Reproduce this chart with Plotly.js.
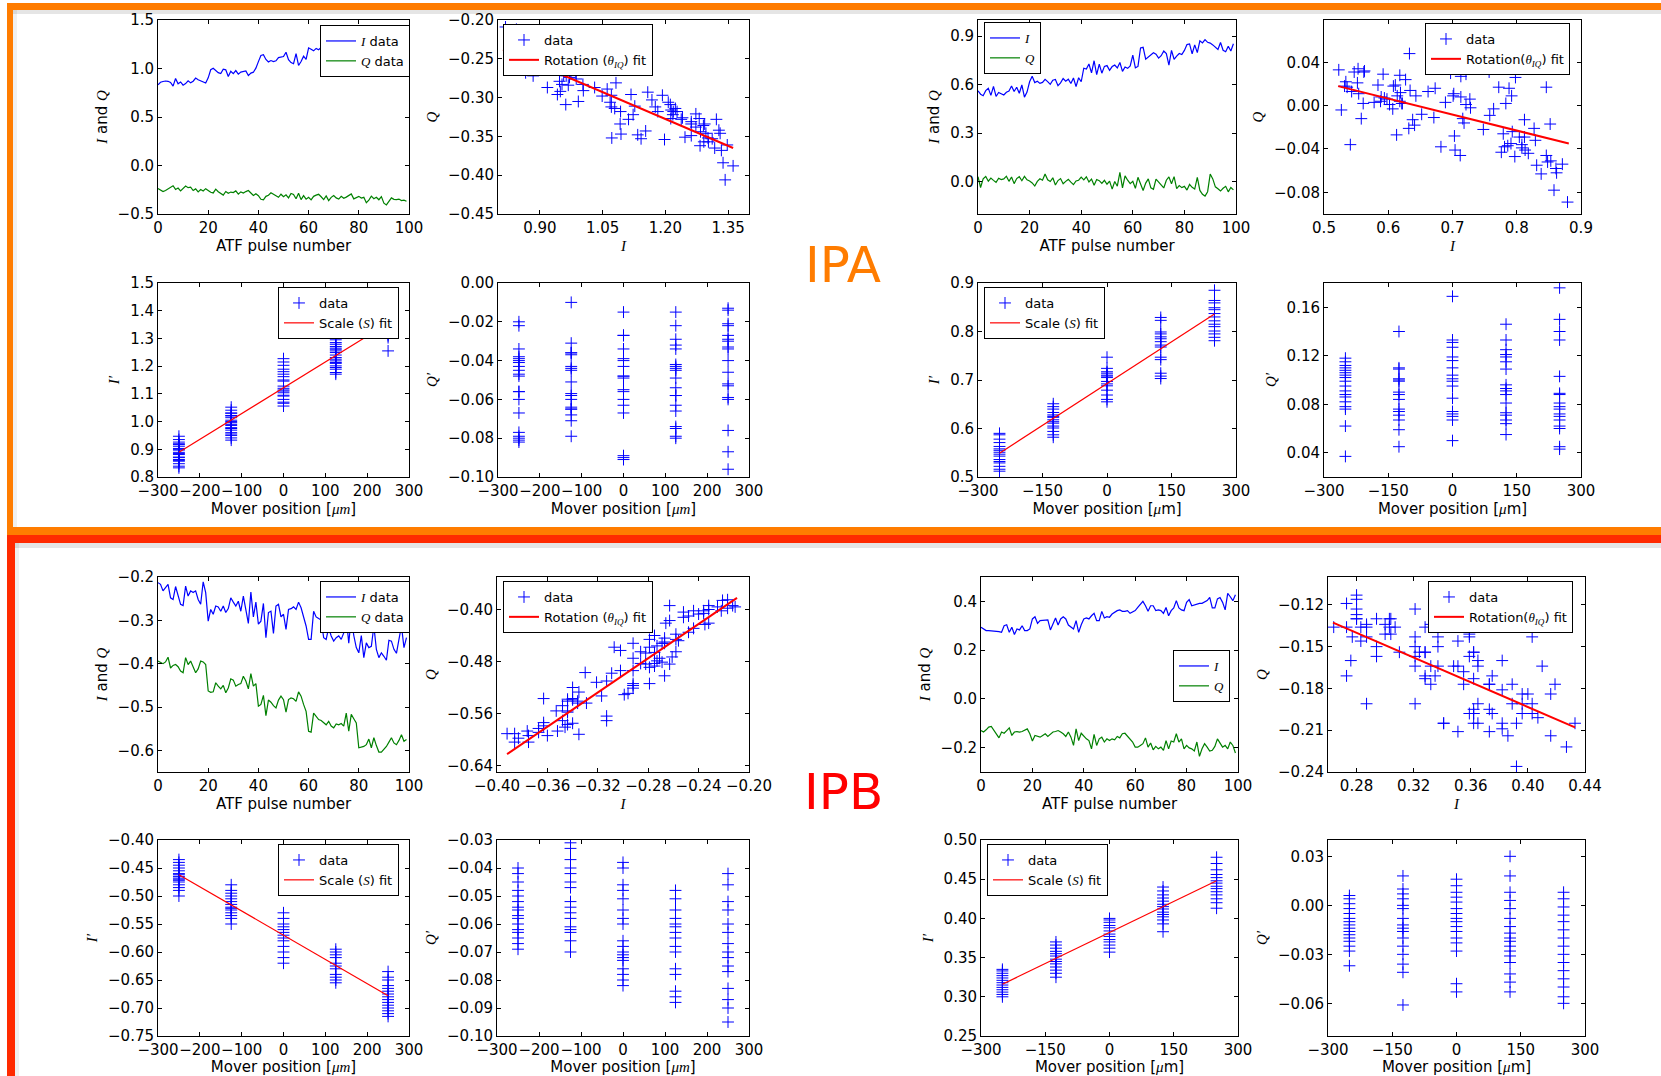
<!DOCTYPE html>
<html><head><meta charset="utf-8">
<script src="https://cdn.plot.ly/plotly-3.0.1.min.js"></script>
<style>html,body{margin:0;padding:0;background:#fff;}#chart{width:1661px;height:1076px;}</style>
</head><body><div id="chart"></div>
<script>
// ---------------- DATA ----------------
const pulseNumber = [0,1,2,3,4,5,6,7,8,9,10,11,12,13,14,15,16,17,18,19,20,21,22,23,24,25,26,27,28,29,30,31,32,33,34,35,36,37,38,39,40,41,42,43,44,45,46,47,48,49,50,51,52,53,54,55,56,57,58,59,60,61,62,63,64,65,66,67,68,69,70,71,72,73,74,75,76,77,78,79,80,81,82,83,84,85,86,87,88,89,90,91,92,93,94,95,96,97,98,99];

// IPA, left pair (I and Q per pulse)
const ipaL_I = [0.832,0.858,0.866,0.871,0.868,0.856,0.818,0.897,0.843,0.861,
 0.828,0.844,0.873,0.852,0.869,0.902,0.884,0.874,0.862,0.851,
 0.904,0.987,1.003,0.978,0.957,0.949,0.992,0.986,0.918,0.971,
 0.947,0.979,0.942,0.963,0.968,0.974,0.927,0.953,0.962,1.004,
 1.071,1.134,1.142,1.093,1.068,1.082,1.071,1.079,1.112,1.118,
 1.123,1.168,1.092,1.061,1.049,1.153,1.031,1.072,1.127,1.094,
 1.213,1.198,1.182,1.207,1.193,1.218,1.247,1.224,1.283,1.238,
 1.212,1.262,1.297,1.228,1.273,1.241,1.176,1.158,1.284,1.262,
 1.219,1.291,1.322,1.338,1.303,1.214,1.328,1.281,1.312,1.273,
 1.362,1.343,1.318,1.294,1.262,1.302,1.331,1.348,1.292,1.334];
const ipaL_Q = [-0.238,-0.252,-0.268,-0.257,-0.243,-0.228,-0.209,-0.247,-0.232,-0.262,
 -0.236,-0.212,-0.229,-0.224,-0.258,-0.241,-0.272,-0.248,-0.263,-0.239,
 -0.257,-0.276,-0.283,-0.244,-0.271,-0.292,-0.305,-0.268,-0.287,-0.274,
 -0.279,-0.262,-0.296,-0.272,-0.284,-0.269,-0.258,-0.283,-0.309,-0.291,
 -0.312,-0.348,-0.353,-0.318,-0.306,-0.281,-0.297,-0.314,-0.328,-0.296,
 -0.322,-0.303,-0.334,-0.289,-0.298,-0.343,-0.287,-0.352,-0.311,-0.347,
 -0.327,-0.354,-0.318,-0.306,-0.297,-0.322,-0.351,-0.314,-0.362,-0.328,
 -0.309,-0.334,-0.346,-0.318,-0.338,-0.326,-0.312,-0.293,-0.344,-0.331,
 -0.318,-0.336,-0.328,-0.384,-0.357,-0.316,-0.342,-0.327,-0.353,-0.321,
 -0.388,-0.406,-0.365,-0.334,-0.349,-0.352,-0.346,-0.361,-0.357,-0.368];
const ipaL_fitI = [0.812, 1.362];
const ipaL_fitQ = [-0.238, -0.365];

// IPA, right pair
const ipaR_I = [0.562,0.541,0.532,0.563,0.578,0.534,0.589,0.527,0.552,0.543,
 0.536,0.553,0.561,0.592,0.558,0.584,0.547,0.598,0.523,0.554,
 0.618,0.652,0.613,0.621,0.608,0.614,0.633,0.619,0.602,0.627,
 0.632,0.594,0.611,0.638,0.622,0.634,0.607,0.641,0.588,0.643,
 0.618,0.702,0.697,0.728,0.673,0.748,0.662,0.727,0.671,0.713,
 0.718,0.689,0.712,0.721,0.703,0.737,0.682,0.709,0.701,0.716,
 0.783,0.704,0.713,0.827,0.831,0.758,0.772,0.781,0.797,0.788,
 0.764,0.779,0.808,0.792,0.721,0.812,0.757,0.776,0.793,0.786,
 0.812,0.848,0.852,0.791,0.846,0.798,0.871,0.858,0.879,0.862,
 0.857,0.846,0.829,0.818,0.861,0.813,0.804,0.838,0.808,0.853];
const ipaR_Q = [0.031,-0.036,0.018,0.032,0.003,0.022,0.008,-0.004,0.021,0.013,
 0.017,0.034,0.002,0.029,-0.012,0.019,0.031,0.006,0.033,0.011,
 0.004,-0.008,-0.027,0.002,0.018,0.009,0.048,0.012,0.001,0.024,
 -0.021,0.007,0.019,-0.013,0.002,0.014,-0.003,-0.018,0.004,0.009,
 0.028,0.011,0.030,-0.002,0.016,-0.022,0.013,0.006,-0.011,0.008,
 -0.016,0.003,-0.046,0.001,-0.028,0.058,-0.038,0.036,0.009,-0.012,
 0.002,-0.041,0.027,-0.021,-0.055,-0.009,0.017,-0.038,-0.047,0.016,
 -0.003,-0.026,-0.039,0.009,0.029,-0.013,0.031,-0.043,-0.024,-0.037,
 -0.029,-0.052,-0.017,-0.035,-0.046,0.026,-0.054,-0.078,-0.089,-0.062,
 0.047,0.017,-0.032,-0.044,-0.058,-0.041,-0.029,-0.063,-0.036,-0.051];
const ipaR_fitI = [0.522, 0.881];
const ipaR_fitQ = [0.018, -0.035];

// IPB, left pair
const ipbL_I = [-0.213,-0.217,-0.232,-0.225,-0.217,-0.248,-0.252,-0.222,-0.240,-0.263,
 -0.266,-0.221,-0.244,-0.232,-0.236,-0.232,-0.252,-0.263,-0.211,-0.236,
 -0.302,-0.275,-0.286,-0.267,-0.269,-0.279,-0.267,-0.282,-0.273,-0.248,
 -0.258,-0.267,-0.256,-0.279,-0.244,-0.275,-0.307,-0.235,-0.292,-0.258,
 -0.309,-0.302,-0.261,-0.340,-0.282,-0.279,-0.330,-0.267,-0.263,-0.292,
 -0.286,-0.321,-0.275,-0.273,-0.269,-0.275,-0.258,-0.271,-0.292,-0.313,
 -0.344,-0.344,-0.279,-0.292,-0.296,-0.299,-0.340,-0.344,-0.317,-0.336,
 -0.348,-0.340,-0.336,-0.344,-0.329,-0.292,-0.353,-0.292,-0.335,-0.363,
 -0.375,-0.335,-0.386,-0.352,-0.363,-0.360,-0.313,-0.367,-0.386,-0.375,
 -0.383,-0.392,-0.346,-0.348,-0.367,-0.376,-0.344,-0.313,-0.363,-0.340];
const ipbL_Q = [-0.394,-0.398,-0.400,-0.396,-0.385,-0.410,-0.404,-0.402,-0.407,-0.417,
 -0.421,-0.386,-0.402,-0.394,-0.406,-0.421,-0.412,-0.394,-0.396,-0.402,
 -0.463,-0.466,-0.465,-0.444,-0.452,-0.458,-0.450,-0.467,-0.456,-0.435,
 -0.438,-0.452,-0.448,-0.446,-0.429,-0.440,-0.458,-0.423,-0.452,-0.446,
 -0.498,-0.494,-0.473,-0.520,-0.484,-0.489,-0.497,-0.502,-0.484,-0.475,
 -0.483,-0.512,-0.483,-0.479,-0.481,-0.487,-0.465,-0.475,-0.494,-0.510,
 -0.556,-0.558,-0.514,-0.521,-0.529,-0.531,-0.537,-0.541,-0.533,-0.544,
 -0.548,-0.539,-0.541,-0.538,-0.544,-0.514,-0.556,-0.517,-0.527,-0.537,
 -0.594,-0.592,-0.591,-0.587,-0.574,-0.594,-0.571,-0.589,-0.604,-0.604,
 -0.598,-0.591,-0.581,-0.571,-0.583,-0.587,-0.577,-0.564,-0.579,-0.575];
const ipbL_fitI = [-0.392, -0.2095];
const ipbL_fitQ = [-0.6225, -0.382];

// IPB, right pair
const ipbR_I = [0.294,0.287,0.280,0.280,0.280,0.280,0.277,0.276,0.273,0.300,
 0.304,0.273,0.294,0.264,0.287,0.283,0.300,0.280,0.280,0.287,
 0.328,0.337,0.310,0.321,0.321,0.321,0.324,0.283,0.307,0.332,
 0.303,0.328,0.337,0.328,0.303,0.294,0.287,0.321,0.273,0.304,
 0.328,0.332,0.328,0.341,0.351,0.321,0.321,0.359,0.332,0.337,
 0.335,0.348,0.355,0.362,0.365,0.359,0.359,0.362,0.351,0.355,
 0.362,0.375,0.389,0.400,0.382,0.359,0.382,0.382,0.362,0.365,
 0.362,0.351,0.375,0.341,0.362,0.373,0.403,0.373,0.365,0.362,
 0.396,0.407,0.382,0.386,0.389,0.392,0.392,0.396,0.403,0.416,
 0.373,0.373,0.410,0.416,0.396,0.365,0.433,0.419,0.403,0.427];
const ipbR_Q = [-0.130,-0.136,-0.127,-0.116,-0.113,-0.130,-0.143,-0.160,-0.136,-0.141,
 -0.130,-0.119,-0.150,-0.136,-0.134,-0.136,-0.134,-0.130,-0.123,-0.143,
 -0.173,-0.150,-0.154,-0.157,-0.150,-0.143,-0.154,-0.146,-0.136,-0.134,
 -0.130,-0.136,-0.143,-0.154,-0.136,-0.157,-0.191,-0.123,-0.171,-0.141,
 -0.154,-0.164,-0.171,-0.205,-0.146,-0.191,-0.164,-0.157,-0.177,-0.164,
 -0.171,-0.164,-0.168,-0.154,-0.160,-0.143,-0.141,-0.154,-0.164,-0.177,
 -0.198,-0.198,-0.191,-0.184,-0.160,-0.198,-0.181,-0.209,-0.195,-0.205,
 -0.198,-0.211,-0.171,-0.205,-0.173,-0.177,-0.143,-0.177,-0.164,-0.205,
 -0.191,-0.201,-0.205,-0.214,-0.177,-0.236,-0.205,-0.184,-0.198,-0.214,
 -0.211,-0.195,-0.164,-0.184,-0.198,-0.191,-0.205,-0.177,-0.191,-0.222];
const ipbR_fitI = [0.2635, 0.433];
const ipbR_fitQ = [-0.1327, -0.208];

// Mover scans
const moverPositions = [-250, -125, 0, 125, 250];
const moverFitX = [-250, 250];

const ipaL_Iprime = [
 [0.947,0.935,0.926,0.917,0.911,0.903,0.897,0.889,0.881,0.872,0.863,0.857,0.848,0.839,0.833,0.900,0.885,0.870,0.920,0.860],
 [1.052,1.041,1.031,1.022,1.014,1.005,0.996,0.986,0.978,0.969,0.960,0.950,0.941,0.933,1.000,1.030,0.990,0.955,1.020,0.975],
 [1.227,1.215,1.203,1.189,1.171,1.162,1.146,1.128,1.114,1.104,1.092,1.080,1.066,1.056,1.110,1.150,1.095,1.180,1.120,1.070],
 [1.303,1.295,1.279,1.271,1.261,1.249,1.231,1.219,1.213,1.201,1.189,1.177,1.171,1.255,1.225,1.265,1.210,1.285,1.240,1.195],
 [1.255,1.303,1.315,1.310,1.340,1.350,1.360,1.370,1.380,1.390,1.400,1.410,1.420,1.435,1.450,1.345,1.365,1.385,1.405,1.330]];
const ipaL_IprimeFit = [0.889, 1.355];
const ipaL_Qprime = [
 [-0.020,-0.022,-0.034,-0.038,-0.040,-0.041,-0.043,-0.045,-0.047,-0.048,-0.056,-0.056,-0.060,-0.067,-0.077,-0.079,-0.080,-0.081,-0.082,-0.039],
 [-0.010,-0.031,-0.036,-0.036,-0.043,-0.044,-0.051,-0.057,-0.058,-0.060,-0.064,-0.065,-0.068,-0.071,-0.079,-0.037,-0.045,-0.065],
 [-0.015,-0.027,-0.027,-0.034,-0.039,-0.040,-0.043,-0.048,-0.048,-0.049,-0.055,-0.056,-0.060,-0.063,-0.067,-0.089,-0.090,-0.091],
 [-0.015,-0.022,-0.029,-0.032,-0.034,-0.042,-0.043,-0.044,-0.045,-0.049,-0.054,-0.058,-0.058,-0.063,-0.066,-0.074,-0.075,-0.079,-0.080],
 [-0.013,-0.014,-0.021,-0.022,-0.027,-0.029,-0.030,-0.033,-0.034,-0.040,-0.046,-0.052,-0.053,-0.059,-0.060,-0.076,-0.087,-0.096]];

const ipaR_Iprime = [
 [0.590,0.587,0.578,0.571,0.563,0.558,0.551,0.543,0.536,0.529,0.522,0.516,0.512,0.555,0.547,0.532],
 [0.651,0.645,0.640,0.633,0.628,0.623,0.618,0.611,0.605,0.601,0.594,0.587,0.582,0.625,0.614],
 [0.747,0.724,0.717,0.714,0.710,0.705,0.697,0.688,0.679,0.669,0.660,0.655,0.708,0.692],
 [0.829,0.823,0.799,0.795,0.789,0.779,0.772,0.768,0.747,0.742,0.714,0.708,0.703,0.785],
 [0.885,0.864,0.859,0.849,0.837,0.830,0.822,0.815,0.810,0.801,0.795,0.788,0.781,0.845]];
const ipaR_IprimeFit = [0.549, 0.836];
const ipaR_Qprime = [
 [0.118,0.115,0.112,0.110,0.108,0.106,0.104,0.102,0.099,0.095,0.091,0.088,0.086,0.082,0.078,0.076,0.062,0.037],
 [0.140,0.110,0.109,0.101,0.100,0.099,0.090,0.088,0.084,0.076,0.074,0.071,0.067,0.059,0.045],
 [0.169,0.133,0.131,0.127,0.119,0.116,0.110,0.104,0.101,0.099,0.095,0.085,0.074,0.072,0.070,0.067,0.050],
 [0.146,0.133,0.125,0.121,0.119,0.115,0.109,0.096,0.093,0.091,0.088,0.081,0.073,0.071,0.067,0.064,0.055],
 [0.176,0.150,0.140,0.133,0.103,0.089,0.088,0.081,0.078,0.076,0.072,0.070,0.067,0.062,0.060,0.045,0.043]];

const ipbL_Iprime = [
 [-0.435,-0.440,-0.445,-0.450,-0.455,-0.460,-0.462,-0.465,-0.468,-0.470,-0.472,-0.475,-0.480,-0.485,-0.490,-0.500],
 [-0.480,-0.490,-0.495,-0.500,-0.505,-0.510,-0.515,-0.520,-0.522,-0.525,-0.530,-0.535,-0.540,-0.550],
 [-0.530,-0.540,-0.550,-0.555,-0.560,-0.565,-0.570,-0.575,-0.580,-0.590,-0.600,-0.610,-0.620],
 [-0.595,-0.600,-0.605,-0.610,-0.620,-0.625,-0.630,-0.640,-0.645,-0.650,-0.655],
 [-0.635,-0.645,-0.650,-0.660,-0.665,-0.670,-0.675,-0.680,-0.685,-0.690,-0.695,-0.700,-0.705,-0.710,-0.715]];
const ipbL_IprimeFit = [-0.462, -0.678];
const ipbL_Qprime = [
 [-0.040,-0.042,-0.045,-0.048,-0.050,-0.052,-0.054,-0.055,-0.057,-0.058,-0.060,-0.062,-0.063,-0.065,-0.067,-0.069],
 [-0.031,-0.033,-0.037,-0.040,-0.042,-0.045,-0.047,-0.052,-0.054,-0.056,-0.058,-0.061,-0.062,-0.063,-0.066,-0.070],
 [-0.038,-0.040,-0.046,-0.048,-0.051,-0.055,-0.058,-0.060,-0.066,-0.068,-0.070,-0.071,-0.072,-0.073,-0.076,-0.078,-0.080,-0.082],
 [-0.048,-0.051,-0.055,-0.058,-0.060,-0.061,-0.063,-0.065,-0.068,-0.070,-0.076,-0.078,-0.084,-0.086,-0.088],
 [-0.042,-0.046,-0.052,-0.055,-0.060,-0.063,-0.067,-0.070,-0.072,-0.075,-0.077,-0.083,-0.087,-0.090,-0.095]];

const ipbR_Iprime = [
 [0.300,0.303,0.306,0.309,0.312,0.315,0.318,0.321,0.324,0.327,0.330,0.333,0.335],
 [0.325,0.330,0.334,0.338,0.342,0.345,0.348,0.352,0.355,0.358,0.362,0.366,0.370],
 [0.357,0.362,0.366,0.370,0.373,0.377,0.380,0.384,0.388,0.391,0.395,0.398,0.400],
 [0.383,0.393,0.398,0.402,0.405,0.408,0.412,0.415,0.418,0.422,0.426,0.430,0.435,0.440],
 [0.413,0.420,0.425,0.430,0.434,0.438,0.441,0.445,0.448,0.452,0.456,0.462,0.470,0.478]];
const ipbR_IprimeFit = [0.316, 0.448];
const ipbR_Qprime = [
 [0.006,0.004,0.001,-0.002,-0.005,-0.008,-0.010,-0.012,-0.014,-0.016,-0.018,-0.020,-0.022,-0.025,-0.028,-0.037],
 [0.018,0.010,0.007,0.004,0.000,-0.002,-0.008,-0.012,-0.014,-0.016,-0.020,-0.025,-0.030,-0.036,-0.041,-0.061],
 [0.016,0.012,0.008,0.005,0.002,-0.002,-0.005,-0.008,-0.010,-0.013,-0.016,-0.020,-0.023,-0.028,-0.048,-0.053],
 [0.030,0.018,0.008,0.003,-0.002,-0.008,-0.013,-0.017,-0.020,-0.022,-0.025,-0.028,-0.031,-0.035,-0.042,-0.047,-0.053],
 [0.008,0.004,-0.001,-0.006,-0.010,-0.015,-0.020,-0.025,-0.030,-0.035,-0.040,-0.045,-0.050,-0.056,-0.060]];

// ---------------- STYLE / BUILD ----------------
const W = 1661, H = 1076;
const BLUE = '#0000ff', GREEN = '#008000', RED = '#ff0000';
const M = s => '<span style="font-family:Liberation Serif;font-style:italic">' + s + '</span>';
const FONT = 'DejaVu Sans';

function flatX(cols){ const o=[]; cols.forEach((c,i)=>c.forEach(()=>o.push(moverPositions[i]))); return o; }
function flatY(cols){ const o=[]; cols.forEach(c=>c.forEach(v=>o.push(v))); return o; }

const traces = [];
const cross = {symbol:'cross-thin', size:8.5, color:BLUE, line:{width:1, color:BLUE}};

function tsPanel(n, I, Q, lg, names){
  traces.push({x:pulseNumber, y:I, mode:'lines', line:{color:BLUE,width:1.2}, name:names[0], xaxis:'x'+n, yaxis:'y'+n, legend:lg, showlegend:true});
  traces.push({x:pulseNumber, y:Q, mode:'lines', line:{color:GREEN,width:1.2}, name:names[1], xaxis:'x'+n, yaxis:'y'+n, legend:lg, showlegend:true});
}
function iqPanel(n, I, Q, fI, fQ, lg, fitName){
  traces.push({x:I, y:Q, mode:'markers', marker:cross, name:'data', xaxis:'x'+n, yaxis:'y'+n, legend:lg, showlegend:true});
  traces.push({x:fI, y:fQ, mode:'lines', line:{color:RED,width:2}, name:fitName, xaxis:'x'+n, yaxis:'y'+n, legend:lg, showlegend:true});
}
function moverPanel(n, cols, fit, lg){
  traces.push({x:flatX(cols), y:flatY(cols), mode:'markers', marker:cross, name:'data', xaxis:'x'+n, yaxis:'y'+n, legend:lg||'legend', showlegend:!!lg});
  if(fit) traces.push({x:moverFitX, y:fit, mode:'lines', line:{color:RED,width:1.2}, name:'Scale ('+M('S')+') fit', xaxis:'x'+n, yaxis:'y'+n, legend:lg, showlegend:true});
}

const rotFit = 'Rotation ('+M('θ')+'<sub>'+M('IQ')+'</sub>) fit';
const rotFit2 = 'Rotation('+M('θ')+'<sub>'+M('IQ')+'</sub>) fit';

tsPanel(1, ipaL_I, ipaL_Q, 'legend', [M('I')+' data', M('Q')+' data']);
iqPanel(2, ipaL_I, ipaL_Q, ipaL_fitI, ipaL_fitQ, 'legend2', rotFit);
tsPanel(3, ipaR_I, ipaR_Q, 'legend3', [M('I'), M('Q')]);
iqPanel(4, ipaR_I, ipaR_Q, ipaR_fitI, ipaR_fitQ, 'legend4', rotFit2);
moverPanel(5, ipaL_Iprime, ipaL_IprimeFit, 'legend5');
moverPanel(6, ipaL_Qprime, null, null);
moverPanel(7, ipaR_Iprime, ipaR_IprimeFit, 'legend6');
moverPanel(8, ipaR_Qprime, null, null);
tsPanel(9, ipbL_I, ipbL_Q, 'legend7', [M('I')+' data', M('Q')+' data']);
iqPanel(10, ipbL_I, ipbL_Q, ipbL_fitI, ipbL_fitQ, 'legend8', rotFit);
tsPanel(11, ipbR_I, ipbR_Q, 'legend9', [M('I'), M('Q')]);
iqPanel(12, ipbR_I, ipbR_Q, ipbR_fitI, ipbR_fitQ, 'legend10', rotFit2);
moverPanel(13, ipbL_Iprime, ipbL_IprimeFit, 'legend11');
moverPanel(14, ipbL_Qprime, null, null);
moverPanel(15, ipbR_Iprime, ipbR_IprimeFit, 'legend12');
moverPanel(16, ipbR_Qprime, null, null);

// panel geometry (px)
const colsTop = [[158,409],[498,749],[978,1236],[1324,1581]];
const colsBot = [[158,409],[497,749],[981,1238],[1328,1585]];
const rowsY = [[20,214],[283,477],[577,772],[840,1036]];

const muL = '[' + M('μm') + ']';
const muR = '[' + M('μ') + 'm]';
const specs = [
 {xr:[0,100], xdt:20, x0:0, xf:'d', yr:[-0.5,1.5], ydt:0.5, y0:0, yf:'.1f', xt:'ATF pulse number', yt:M('I')+' and '+M('Q')},
 {xr:[0.8,1.4], xdt:0.15, x0:0.9, xf:'.2f', yr:[-0.45,-0.2], ydt:0.05, y0:0, yf:'.2f', xt:M('I'), yt:M('Q')},
 {xr:[0,100], xdt:20, x0:0, xf:'d', yr:[-0.2,1.0], ydt:0.3, y0:0, yf:'.1f', xt:'ATF pulse number', yt:M('I')+' and '+M('Q')},
 {xr:[0.5,0.9], xdt:0.1, x0:0, xf:'.1f', yr:[-0.1,0.079], ydt:0.04, y0:0, yf:'.2f', xt:M('I'), yt:M('Q')},
 {xr:[-300,300], xdt:100, x0:0, xf:'d', yr:[0.8,1.5], ydt:0.1, y0:0, yf:'.1f', xt:'Mover position '+muL, yt:M('I′')},
 {xr:[-300,300], xdt:100, x0:0, xf:'d', yr:[-0.1,0.0], ydt:0.02, y0:0, yf:'.2f', xt:'Mover position '+muL, yt:M('Q′')},
 {xr:[-300,300], xdt:150, x0:0, xf:'d', yr:[0.5,0.9], ydt:0.1, y0:0, yf:'.1f', xt:'Mover position '+muR, yt:M('I′')},
 {xr:[-300,300], xdt:150, x0:0, xf:'d', yr:[0.02,0.18], ydt:0.04, y0:0, yf:'.2f', xt:'Mover position '+muR, yt:M('Q′')},
 {xr:[0,100], xdt:20, x0:0, xf:'d', yr:[-0.65,-0.2], ydt:0.1, y0:0, yf:'.1f', xt:'ATF pulse number', yt:M('I')+' and '+M('Q')},
 {xr:[-0.4,-0.2], xdt:0.04, x0:0, xf:'.2f', yr:[-0.65,-0.35], ydt:0.08, y0:-0.4, yf:'.2f', xt:M('I'), yt:M('Q')},
 {xr:[0,100], xdt:20, x0:0, xf:'d', yr:[-0.3,0.5], ydt:0.2, y0:0, yf:'.1f', xt:'ATF pulse number', yt:M('I')+' and '+M('Q')},
 {xr:[0.26,0.44], xdt:0.04, x0:0, xf:'.2f', yr:[-0.24,-0.1], ydt:0.03, y0:0, yf:'.2f', xt:M('I'), yt:M('Q')},
 {xr:[-300,300], xdt:100, x0:0, xf:'d', yr:[-0.75,-0.4], ydt:0.05, y0:0, yf:'.2f', xt:'Mover position '+muL, yt:M('I′')},
 {xr:[-300,300], xdt:100, x0:0, xf:'d', yr:[-0.1,-0.03], ydt:0.01, y0:0, yf:'.2f', xt:'Mover position '+muL, yt:M('Q′')},
 {xr:[-300,300], xdt:150, x0:0, xf:'d', yr:[0.25,0.5], ydt:0.05, y0:0, yf:'.2f', xt:'Mover position '+muR, yt:M('I′')},
 {xr:[-300,300], xdt:150, x0:0, xf:'d', yr:[-0.08,0.04], ydt:0.03, y0:0, yf:'.2f', xt:'Mover position '+muR, yt:M('Q′')}
];

const layout = {
  width:W, height:H, margin:{l:0,r:0,t:0,b:0},
  paper_bgcolor:'#ffffff', plot_bgcolor:'#ffffff',
  font:{family:FONT, size:15, color:'#000'},
  showlegend:true, shapes:[], annotations:[]
};
function axBase(){ return {showline:true, mirror:'ticks', linecolor:'#000', linewidth:1, ticks:'inside', ticklen:4, tickwidth:1, tickcolor:'#000', showgrid:false, zeroline:false, tickmode:'linear', tickangle:0, tickfont:{family:FONT,size:15,color:'#000'}}; }
specs.forEach((s,i)=>{
  const n=i+1, r=Math.floor(i/4), c=i%4;
  const cx = (r<2?colsTop:colsBot)[c], ry=rowsY[r];
  const xa = Object.assign(axBase(), {domain:[cx[0]/W, cx[1]/W], range:s.xr, dtick:s.xdt, tick0:s.x0, tickformat:s.xf, anchor:'y'+n, title:{text:s.xt, font:{family:FONT,size:15,color:'#000'}, standoff:4}});
  const ya = Object.assign(axBase(), {domain:[1-ry[1]/H, 1-ry[0]/H], range:s.yr, dtick:s.ydt, tick0:s.y0, tickformat:s.yf, anchor:'x'+n, title:{text:s.yt, font:{family:FONT,size:15,color:'#000'}, standoff:6}});
  layout['xaxis'+(n===1?'':n)] = xa;
  layout['yaxis'+(n===1?'':n)] = ya;
});

// legends (px of top-left corner)
const legendPos = [[320,25],[503,24],[984,22],[1425,23],[278,287],[984,287],[320,581],[503,581],[1173,650],[1428,581],[278,844],[987,844]];
legendPos.forEach((p,i)=>{
  layout['legend'+(i===0?'':(i+1))] = {x:p[0]/W, y:1-p[1]/H, xanchor:'left', yanchor:'top', bgcolor:'#ffffff', bordercolor:'#000', borderwidth:1, font:{family:FONT,size:13,color:'#000'}, tracegroupgap:0};
});

// frames
function rect(x0,y0,x1,y1,color){ return {type:'rect', xref:'paper', yref:'paper', x0:x0/W, x1:x1/W, y0:1-y1/H, y1:1-y0/H, fillcolor:color, line:{width:0}, layer:'above'}; }
const ORANGE = '#ff7c00', REDF = '#ff2a00';
layout.shapes.push(
  rect(13,10,W,14,'rgba(0,0,0,0.10)'), rect(13,543,W,548,'rgba(0,0,0,0.10)'),
  rect(13,10,17,527,'rgba(0,0,0,0.06)'), rect(15,543,19,H,'rgba(0,0,0,0.06)'),
  rect(7,3,W,10,ORANGE), rect(7,3,13,535,ORANGE), rect(7,527,W,535,ORANGE),
  rect(7,535,W,543,REDF), rect(7,535,15,H,REDF)
);
layout.annotations.push(
  {xref:'paper', yref:'paper', x:843/W, y:1-265/H, text:'IPA', showarrow:false, font:{family:FONT,size:50,color:ORANGE}, xanchor:'center', yanchor:'middle'},
  {xref:'paper', yref:'paper', x:843/W, y:1-792/H, text:'IPB', showarrow:false, font:{family:FONT,size:50,color:'#ff0000'}, xanchor:'center', yanchor:'middle'}
);

Plotly.newPlot('chart', traces, layout, {staticPlot:true, displayModeBar:false});
</script></body></html>
